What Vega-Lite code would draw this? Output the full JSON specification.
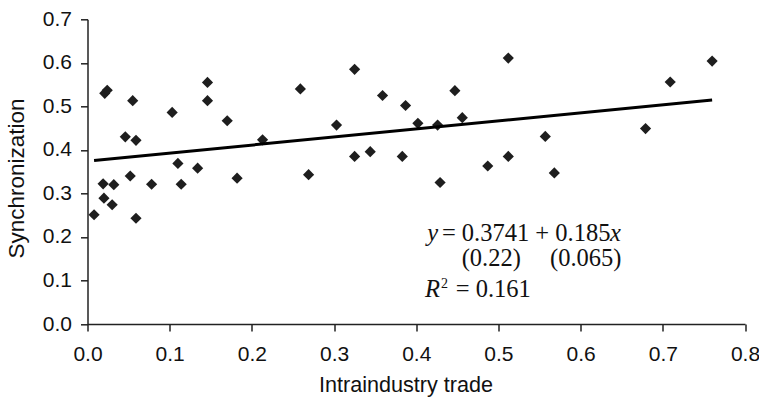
{
  "$schema": "https://vega.github.io/schema/vega-lite/v6.json",
  "width": 657.5,
  "height": 304.7,
  "autosize": "none",
  "padding": {"left": 87.5, "top": 19.3, "right": 14, "bottom": 74},
  "background": "white",
  "config": {
    "view": {"stroke": null},
    "axis": {
      "grid": false,
      "domainColor": "#222",
      "domainWidth": 1.5,
      "tickColor": "#222",
      "tickWidth": 1.5,
      "tickSize": 7,
      "labelFlush": false,
      "labelFont": "Liberation Sans",
      "labelFontSize": 21,
      "labelColor": "#111",
      "titleFont": "Liberation Sans",
      "titleFontWeight": "normal",
      "titleColor": "#111"
    }
  },
  "datasets": {
    "points": [
      {"trade": 0.008, "sync": 0.251},
      {"trade": 0.019, "sync": 0.322},
      {"trade": 0.020, "sync": 0.289},
      {"trade": 0.021, "sync": 0.530},
      {"trade": 0.024, "sync": 0.537},
      {"trade": 0.030, "sync": 0.274},
      {"trade": 0.032, "sync": 0.320},
      {"trade": 0.046, "sync": 0.430},
      {"trade": 0.052, "sync": 0.340},
      {"trade": 0.055, "sync": 0.513},
      {"trade": 0.059, "sync": 0.422},
      {"trade": 0.059, "sync": 0.243},
      {"trade": 0.078, "sync": 0.321},
      {"trade": 0.103, "sync": 0.486},
      {"trade": 0.110, "sync": 0.369},
      {"trade": 0.114, "sync": 0.321},
      {"trade": 0.134, "sync": 0.358},
      {"trade": 0.146, "sync": 0.555},
      {"trade": 0.146, "sync": 0.513},
      {"trade": 0.170, "sync": 0.467},
      {"trade": 0.182, "sync": 0.335},
      {"trade": 0.213, "sync": 0.423},
      {"trade": 0.259, "sync": 0.540},
      {"trade": 0.269, "sync": 0.343},
      {"trade": 0.303, "sync": 0.457},
      {"trade": 0.325, "sync": 0.585},
      {"trade": 0.325, "sync": 0.385},
      {"trade": 0.344, "sync": 0.396},
      {"trade": 0.359, "sync": 0.525},
      {"trade": 0.383, "sync": 0.385},
      {"trade": 0.387, "sync": 0.502},
      {"trade": 0.402, "sync": 0.461},
      {"trade": 0.426, "sync": 0.457},
      {"trade": 0.429, "sync": 0.325},
      {"trade": 0.447, "sync": 0.536},
      {"trade": 0.456, "sync": 0.474},
      {"trade": 0.487, "sync": 0.363},
      {"trade": 0.512, "sync": 0.611},
      {"trade": 0.512, "sync": 0.385},
      {"trade": 0.557, "sync": 0.431},
      {"trade": 0.568, "sync": 0.347},
      {"trade": 0.679, "sync": 0.449},
      {"trade": 0.709, "sync": 0.556},
      {"trade": 0.760, "sync": 0.604}
    ],
    "fit": [
      {"trade": 0.008, "sync": 0.3756},
      {"trade": 0.760, "sync": 0.5147}
    ],
    "one": [{}]
  },
  "layer": [
    {
      "data": {"name": "points"},
      "mark": {"type": "point", "shape": "diamond", "filled": true, "size": 125, "color": "#1e1e1e", "opacity": 1},
      "encoding": {
        "x": {
          "field": "trade", "type": "quantitative",
          "scale": {"domain": [0, 0.8], "nice": false, "zero": false},
          "axis": {"values": [0, 0.1, 0.2, 0.3, 0.4, 0.5, 0.6, 0.7, 0.8], "format": ".1f", "title": "Intraindustry trade", "labelPadding": 12, "titlePadding": 10, "titleFontSize": 21.6, "titleX": 318, "titleAlign": "center"}
        },
        "y": {
          "field": "sync", "type": "quantitative",
          "scale": {"domain": [0, 0.7], "nice": false, "zero": false},
          "axis": {"values": [0, 0.1, 0.2, 0.3, 0.4, 0.5, 0.6, 0.7], "format": ".1f", "title": "Synchronization", "labelPadding": 9, "titlePadding": 14, "titleFontSize": 22.5, "titleY": 158.7, "titleAlign": "center"}
        }
      }
    },
    {
      "data": {"name": "fit"},
      "mark": {"type": "line", "color": "#000", "strokeWidth": 3},
      "encoding": {
        "x": {"field": "trade", "type": "quantitative"},
        "y": {"field": "sync", "type": "quantitative"}
      }
    },
    {
      "data": {"name": "one"},
      "mark": {"type": "text", "font": "Liberation Serif", "fontSize": 24.5, "fontStyle": "italic", "align": "left", "baseline": "alphabetic", "color": "#111"},
      "encoding": {"x": {"datum": 0.4134}, "y": {"datum": 0.1897}, "text": {"value": "y"}}
    },
    {
      "data": {"name": "one"},
      "mark": {"type": "text", "font": "Liberation Serif", "fontSize": 24.5, "align": "left", "baseline": "alphabetic", "color": "#111"},
      "encoding": {"x": {"datum": 0.4312}, "y": {"datum": 0.1897}, "text": {"value": "= 0.3741 + 0.185"}}
    },
    {
      "data": {"name": "one"},
      "mark": {"type": "text", "font": "Liberation Serif", "fontSize": 24.5, "fontStyle": "italic", "align": "left", "baseline": "alphabetic", "color": "#111"},
      "encoding": {"x": {"datum": 0.6356}, "y": {"datum": 0.1897}, "text": {"value": "x"}}
    },
    {
      "data": {"name": "one"},
      "mark": {"type": "text", "font": "Liberation Serif", "fontSize": 24.5, "align": "left", "baseline": "alphabetic", "color": "#111"},
      "encoding": {"x": {"datum": 0.4553}, "y": {"datum": 0.1322}, "text": {"value": "(0.22)"}}
    },
    {
      "data": {"name": "one"},
      "mark": {"type": "text", "font": "Liberation Serif", "fontSize": 24.5, "align": "left", "baseline": "alphabetic", "color": "#111"},
      "encoding": {"x": {"datum": 0.5627}, "y": {"datum": 0.1322}, "text": {"value": "(0.065)"}}
    },
    {
      "data": {"name": "one"},
      "mark": {"type": "text", "font": "Liberation Serif", "fontSize": 24.5, "fontStyle": "italic", "align": "left", "baseline": "alphabetic", "color": "#111"},
      "encoding": {"x": {"datum": 0.4106}, "y": {"datum": 0.0609}, "text": {"value": "R"}}
    },
    {
      "data": {"name": "one"},
      "mark": {"type": "text", "font": "Liberation Serif", "fontSize": 14, "align": "left", "baseline": "alphabetic", "color": "#111"},
      "encoding": {"x": {"datum": 0.4300}, "y": {"datum": 0.0828}, "text": {"value": "2"}}
    },
    {
      "data": {"name": "one"},
      "mark": {"type": "text", "font": "Liberation Serif", "fontSize": 24.5, "align": "left", "baseline": "alphabetic", "color": "#111"},
      "encoding": {"x": {"datum": 0.4480}, "y": {"datum": 0.0609}, "text": {"value": "= 0.161"}}
    }
  ]
}
